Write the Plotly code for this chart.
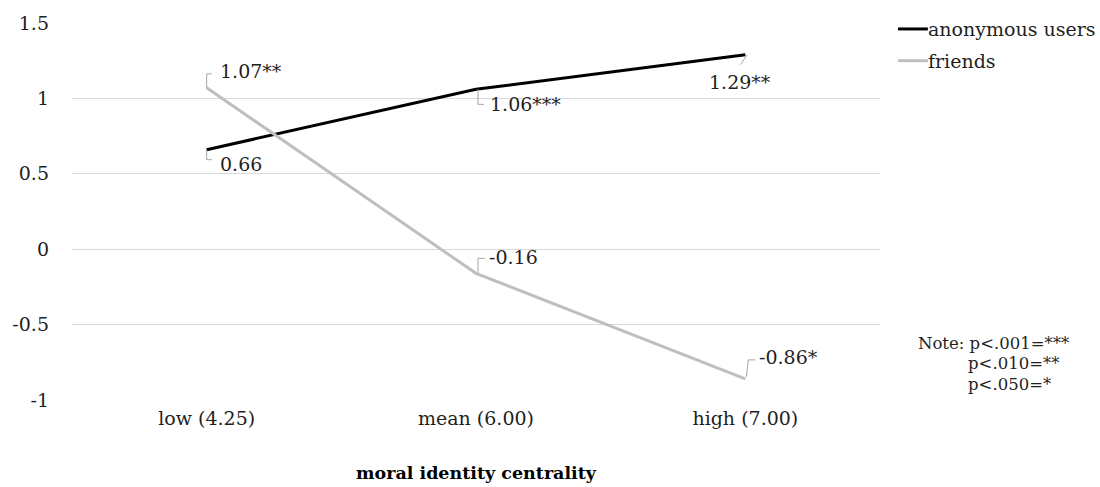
import plotly.graph_objects as go

# Simple slopes of the effect at three levels of moral identity centrality
categories = ["low (4.25)", "mean (6.00)", "high (7.00)"]
anonymous_users = [0.66, 1.06, 1.29]
friends = [1.07, -0.16, -0.86]
anonymous_stars = ["", "***", "**"]
friends_stars = ["**", "", "*"]

series_names = ["anonymous users", "friends"]
y_ticks = [-1, -0.5, 0, 0.5, 1, 1.5]
y_tick_text = ["-1", "-0.5", "0", "0.5", "1", "1.5"]
note_lines = ["Note: p<.001=***", "p<.010=**", "p<.050=*"]

FONT = "DejaVu Serif"
FS = 19
TEXT = "#1f1f1f"
BLACK = "#000000"
GREY = "#BFBFBF"
W, H = 1100, 487
ML, MR, MT, MB = 70, 220, 20, 87
PW, PH = W - ML - MR, H - MT - MB

fig = go.Figure()
fig.add_trace(go.Scatter(x=categories, y=anonymous_users, mode="lines",
                         line=dict(color=BLACK, width=3), name=series_names[0],
                         showlegend=False, hoverinfo="skip"))
fig.add_trace(go.Scatter(x=categories, y=friends, mode="lines",
                         line=dict(color=GREY, width=3), name=series_names[1],
                         showlegend=False, hoverinfo="skip"))


def fmt(v, stars):
    return f"{v:.2f}{stars}"


# (leader path in pixels relative to the point, text offset, anchor) per label
anon_layout = [
    ("M0,0 L0,-10 L5,-10", 11, -14, "left"),
    ("M2,0 L2,-15 L8,-15", 12, -15, "left"),
    ("M2,0 L-5,-10", -5, -27, "center"),
]
friend_layout = [
    ("M0,0 L0,14 L5,14", 11, 17, "left"),
    ("M2,0 L2,15 L9,15", 11, 16, "left"),
    ("M1,2 L3,19 L10,19", 12, 22, "left"),
]

annotations = []
shapes = []
for values, stars, lay in [(anonymous_users, anonymous_stars, anon_layout),
                           (friends, friends_stars, friend_layout)]:
    for cat, v, s, (path, dx, dy, anchor) in zip(categories, values, stars, lay):
        shapes.append(dict(type="path", xref="x", yref="y", xsizemode="pixel",
                           ysizemode="pixel", xanchor=cat, yanchor=v, path=path,
                           line=dict(color="#A6A6A6", width=1)))
        annotations.append(dict(x=cat, y=v, xref="x", yref="y", text=fmt(v, s),
                                showarrow=False, xanchor=anchor, yanchor="middle",
                                xshift=dx, yshift=dy,
                                font=dict(family=FONT, size=FS, color=TEXT)))


def px_x(p):
    return (p - ML) / PW


def px_y(p):
    return (MT + PH - p) / PH


# legend drawn as short line keys with labels
for name, color, yy in [(series_names[0], BLACK, 26), (series_names[1], GREY, 58)]:
    shapes.append(dict(type="line", xref="paper", yref="paper",
                       x0=px_x(898), x1=px_x(928), y0=px_y(yy), y1=px_y(yy),
                       line=dict(color=color, width=3)))
    annotations.append(dict(x=px_x(928), y=px_y(yy), xref="paper", yref="paper",
                            text=name, showarrow=False, xanchor="left",
                            yanchor="middle", xshift=-2,
                            font=dict(family=FONT, size=FS, color=TEXT)))

# significance note
for i, (txt, xx) in enumerate(zip(note_lines, [918, 968, 968])):
    annotations.append(dict(x=px_x(xx), y=px_y(343 + 20.5 * i), xref="paper",
                            yref="paper", text=txt, showarrow=False,
                            xanchor="left", yanchor="middle", xshift=-2,
                            font=dict(family=FONT, size=16.5, color=TEXT)))

# x axis title
annotations.append(dict(x=0.5, y=px_y(474), xref="paper", yref="paper",
                        text="<b>moral identity centrality</b>", showarrow=False,
                        xanchor="center", yanchor="middle",
                        font=dict(family=FONT, size=17.5, color=BLACK)))

fig.update_layout(
    width=W, height=H,
    margin=dict(l=ML, r=MR, t=MT, b=MB),
    paper_bgcolor="white", plot_bgcolor="white",
    font=dict(family=FONT, size=FS, color=TEXT),
    showlegend=False,
    xaxis=dict(type="category", range=[-0.5, 2.5], showgrid=False,
               showline=False, zeroline=False, ticks="",
               ticklabelstandoff=5, tickfont=dict(size=FS, color=TEXT)),
    yaxis=dict(range=[-1, 1.5], tickvals=y_ticks, ticktext=y_tick_text,
               showgrid=True, gridcolor="#D9D9D9", gridwidth=1,
               zeroline=False, showline=False, ticks="",
               ticklabelstandoff=22, tickfont=dict(size=FS, color=TEXT)),
    shapes=shapes,
    annotations=annotations,
)

fig.write_html("out.html")
